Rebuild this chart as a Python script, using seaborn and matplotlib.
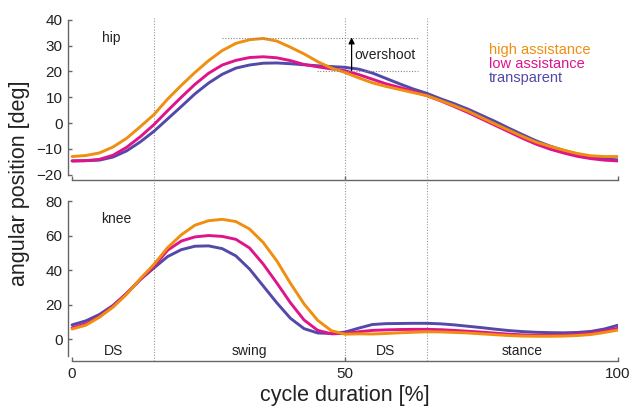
'''
Hip and knee angular position over the gait cycle for three assistance levels
'''
import numpy             as np
import pandas            as pnd
import seaborn           as sns
import matplotlib.pyplot as plt

# ----------------------
cycle = np.arange(0, 100.1, 2.5)

hip_high = [-13.0, -12.6, -11.6, -9.3, -5.9, -1.4, 3.3, 9.3, 14.6, 19.6, 24.2, 28.1, 30.9, 32.3, 32.8,
            31.8, 29.4, 26.8, 23.8, 21.3, 19.6, 17.5, 15.6, 14.2, 13.0, 11.8, 10.6, 8.7, 6.7, 4.6,
            2.1, -0.4, -2.8, -5.2, -7.4, -9.0, -10.5, -11.8, -12.7, -13.0, -13.0]
hip_low  = [-14.7, -14.6, -14.1, -12.5, -9.4, -5.3, -0.6, 4.8, 10.0, 15.0, 19.3, 22.5, 24.3, 25.4, 25.7,
            25.3, 24.2, 22.7, 21.8, 21.0, 20.3, 18.8, 17.0, 15.2, 13.8, 12.3, 10.6, 8.6, 6.4, 4.1,
            1.6, -0.9, -3.4, -5.9, -8.2, -10.1, -11.6, -12.9, -13.8, -14.4, -14.7]
hip_tran = [-14.7, -14.6, -14.4, -13.2, -10.8, -7.3, -3.2, 1.6, 6.4, 11.3, 15.5, 18.9, 21.3, 22.5, 23.2,
            23.3, 23.0, 22.6, 22.2, 21.9, 21.6, 20.9, 19.4, 17.3, 15.2, 13.2, 11.5, 9.4, 7.5, 5.4,
            3.0, 0.6, -2.0, -4.5, -6.9, -8.9, -10.6, -12.0, -13.1, -13.9, -14.3]

knee_high = [5.8, 8.0, 12.6, 18.5, 26.0, 35.0, 43.3, 53.0, 60.4, 66.0, 68.6, 69.4, 68.1, 63.8, 56.0,
             45.3, 32.3, 20.3, 10.8, 4.8, 2.8, 3.0, 2.9, 3.2, 3.6, 3.9, 4.2, 4.1, 3.8, 3.5,
             3.0, 2.5, 2.0, 1.7, 1.6, 1.6, 1.7, 2.0, 2.6, 3.8, 5.2]
knee_low  = [6.5, 8.8, 13.0, 19.0, 26.5, 34.5, 42.2, 51.5, 56.8, 59.2, 60.0, 59.5, 57.8, 52.8, 43.5,
             32.5, 21.0, 11.0, 5.0, 3.0, 3.3, 4.2, 5.0, 5.3, 5.5, 5.6, 5.6, 5.4, 5.0, 4.5,
             4.0, 3.4, 2.8, 2.4, 2.2, 2.2, 2.3, 2.7, 3.4, 4.6, 6.2]
knee_tran = [8.2, 10.5, 14.2, 19.5, 26.5, 34.5, 41.2, 47.8, 51.8, 53.8, 54.0, 52.4, 48.2, 40.6, 30.8,
             21.0, 12.0, 6.0, 3.5, 3.2, 4.0, 6.3, 8.4, 8.9, 9.0, 9.1, 9.1, 8.8, 8.2, 7.4,
             6.6, 5.7, 4.9, 4.3, 3.9, 3.7, 3.6, 3.8, 4.4, 5.8, 8.0]

conditions = ['high assistance', 'low assistance', 'transparent']
colors     = ['#F08E10', '#E0148A', '#5249A8']
phase_ends = [15, 50, 65]
phases     = ['DS', 'swing', 'DS', 'stance']
phase_mid  = [7.5, 32.5, 57.5, 82.5]
# ----------------------
def _long_frame(high, low, tran) -> pnd.DataFrame:
    frames = []
    for name, vals in zip(conditions, [high, low, tran]):
        frames.append(pnd.DataFrame({'cycle' : cycle, 'angle' : vals, 'condition' : name}))

    return pnd.concat(frames, ignore_index=True)
# ----------------------
def _style_axis(ax, ybounds, yticks) -> None:
    ax.patch.set_visible(False)
    for side in ['top', 'right']:
        ax.spines[side].set_visible(False)
    for side in ['left', 'bottom']:
        ax.spines[side].set_color('#666666')
        ax.spines[side].set_linewidth(1.0)
    ax.spines['left'  ].set_bounds(*ybounds)
    ax.spines['bottom'].set_bounds(0, 100)
    ax.set_yticks(yticks)
    ax.set_xticks([0, 50, 100])
    ax.tick_params(direction='in', length=3, width=1, color='#666666', labelsize=11,
                   labelcolor='#222222', pad=4)
    ax.set_xlim(-0.75, 100)
    ax.set_xlabel('')
    ax.set_ylabel('')
# ----------------------
def main():
    sns.set_style('ticks')
    plt.rcParams['font.family'] = ['Liberation Sans', 'DejaVu Sans']

    palette   = dict(zip(conditions, colors))
    hue_order = conditions[::-1]
    line_kw   = dict(linewidth=2.1, solid_joinstyle='round', solid_capstyle='round')

    fig = plt.figure(figsize=(6.32, 4.07), dpi=100)
    ax_hip  = fig.add_axes([68/632, (407-180)/407, 550/632, 165/407])
    ax_knee = fig.add_axes([68/632, (407-361)/407, 550/632, 181/407])

    sns.lineplot(data=_long_frame(hip_high, hip_low, hip_tran), x='cycle', y='angle', hue='condition',
                 hue_order=hue_order, palette=palette, legend=False, ax=ax_hip, **line_kw)
    sns.lineplot(data=_long_frame(knee_high, knee_low, knee_tran), x='cycle', y='angle', hue='condition',
                 hue_order=hue_order, palette=palette, legend=False, ax=ax_knee, **line_kw)

    ax_hip.set_ylim(-22.1, 41.9)
    ax_knee.set_ylim(-12.75, 92.2)
    _style_axis(ax_hip , (-20, 40), [-20, -10, 0, 10, 20, 30, 40])
    _style_axis(ax_knee, (-10, 80), [0, 20, 40, 60, 80])
    ax_hip.set_xticklabels([])

    for xpos in phase_ends:
        ax_hip.axvline(xpos, ymin=0, ymax=0.98, color='#999999', lw=0.8, ls=(0, (1, 1.5)), zorder=0)
        ax_knee.axvline(xpos, color='#999999', lw=0.8, ls=(0, (1, 1.5)), zorder=0)

    # overshoot marker
    ax_hip.plot([27.4, 63.3], [32.8, 32.8], color='#888888', lw=0.8, ls=(0, (1, 1.5)))
    ax_hip.plot([44.8, 63.3], [20.3, 20.3], color='#888888', lw=0.8, ls=(0, (1, 1.5)))
    ax_hip.annotate('', xy=(51.2, 33.2), xytext=(51.2, 20.3),
                    arrowprops=dict(arrowstyle='-|>', color='black', lw=0.9, mutation_scale=9,
                                    shrinkA=0, shrinkB=0))
    ax_hip.text(51.8, 26.4, 'overshoot', fontsize=10, color='#222222', va='center')

    ax_hip.text(5.4, 32.8, 'hip', fontsize=10, color='#222222', va='center')
    ax_knee.text(5.4, 69.4, 'knee', fontsize=10, color='#222222', va='center')

    for name, col, yval in zip(conditions, colors, [28.3, 22.8, 17.3]):
        ax_hip.text(76.4, yval, name, fontsize=10.5, color=col, va='center')

    for name, xmid in zip(phases, phase_mid):
        ax_knee.text(xmid, -6.8, name, fontsize=10, color='#222222', ha='center', va='center')

    fig.text(20/632, 1 - 183/407, 'angular position [deg]', fontsize=15.5, color='#222222',
             rotation=90, ha='center', va='center')
    fig.text(345/632, 1 - 395/407, 'cycle duration [%]', fontsize=15.5, color='#222222',
             ha='center', va='center')

    fig.savefig('out.png', dpi=100)
# ----------------------
if __name__ == '__main__':
    main()
